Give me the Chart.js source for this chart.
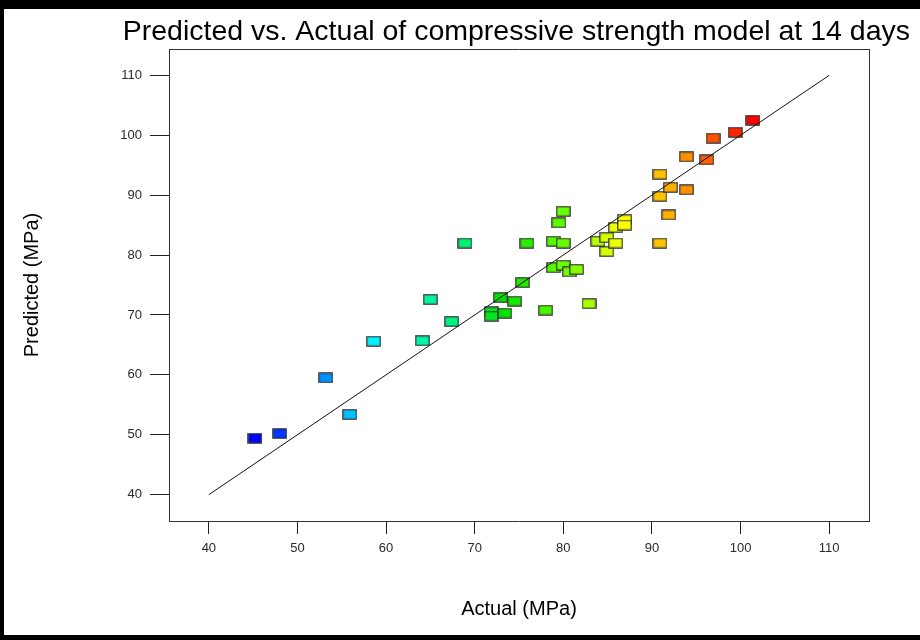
<!DOCTYPE html>
<html>
<head>
    <title>Predicted vs. Actual</title>
    <script src="https://cdn.jsdelivr.net/npm/chart.js"></script>
    <style>
        html, body { margin:0; padding:0; background:#fff; }
        #frame { width:920px; height:640px; box-sizing:border-box; border-top:9px solid #000; border-left:4px solid #000; border-bottom:5px solid #000; }
        #wrap { width:916px; height:626px; position:relative; }
    </style>
</head>
<body>
<div id="frame"><div id="wrap"><canvas id="pva"></canvas></div></div>
<script>
// values
const actual = [45.2, 48.0, 53.2, 55.9, 58.6, 64.1, 65.0, 67.4, 68.9, 71.9, 71.9, 73.4, 72.9, 74.5, 75.4,
  75.9, 78.0, 78.9, 78.9, 79.5, 80.0, 80.0, 80.0, 80.7, 81.5, 82.9, 83.9, 84.9, 84.9, 85.9, 85.9,
  86.9, 86.9, 90.9, 90.9, 90.9, 91.9, 92.1, 93.9, 93.9, 96.2, 96.9, 99.4, 101.4];
const predicted = [49.4, 50.2, 59.5, 53.4, 65.6, 65.7, 72.6, 68.9, 82.0, 70.5, 69.8, 70.3, 72.9, 72.3, 75.4,
  82.0, 70.8, 82.3, 77.9, 85.4, 87.3, 82.0, 78.3, 77.2, 77.6, 71.9, 82.3, 80.6, 82.9, 82.0, 84.6,
  85.9, 85.0, 89.8, 93.5, 82.0, 86.7, 91.3, 90.9, 96.4, 95.9, 99.5, 100.5, 102.5];
const fitLine = [40, 110];
const xTicks = [40, 50, 60, 70, 80, 90, 100, 110];
const yTicks = [40, 50, 60, 70, 80, 90, 100, 110];

// blue -> cyan -> green -> yellow -> red by actual value
const stops = [
  [45, [0,0,255]], [53, [0,140,255]], [58.6, [0,240,255]], [64, [0,245,170]], [69, [0,240,110]],
  [73, [0,225,0]], [80, [100,255,0]], [87, [255,255,0]], [91, [255,192,0]], [94, [255,140,0]],
  [97, [255,80,0]], [101.5, [255,0,0]]
];
function colorFor(v){
  if(v <= stops[0][0]) return stops[0][1];
  for(let i=1;i<stops.length;i++){
    if(v <= stops[i][0]){
      const [a, ca] = stops[i-1], [b, cb] = stops[i];
      const t = (v-a)/(b-a);
      return ca.map((c,k)=>Math.round(c + (cb[k]-c)*t));
    }
  }
  return stops[stops.length-1][1];
}
const boxCache = {};
function box(v){
  const c = colorFor(v);
  const key = c.join(',');
  if(boxCache[key]) return boxCache[key];
  const cv = document.createElement('canvas');
  cv.width = 15; cv.height = 11;
  const g = cv.getContext('2d');
  g.fillStyle = 'rgb(' + key + ')';
  g.fillRect(1, 1, 13, 9);
  g.strokeStyle = '#333';
  g.lineWidth = 1.2;
  g.strokeRect(0.8, 0.8, 13.4, 9.4);
  boxCache[key] = cv;
  return cv;
}

const points = actual.map((a,i)=>({x:a, y:predicted[i]}));
const linePts = fitLine.map(v=>({x:v, y:v}));
const family = '"Liberation Sans", Arial, sans-serif';
const tickFont = {family:family, size:13};

new Chart(document.getElementById('pva'), {
  type:'scatter',
  data:{datasets:[
    {type:'line', data:linePts, borderColor:'#111', borderWidth:1, pointRadius:0, fill:false, order:0},
    {data:points, pointStyle:ctx=>box(ctx.raw ? ctx.raw.x : 70), pointRadius:6, order:1}
  ]},
  options:{
    responsive:true, maintainAspectRatio:false, animation:false,
    layout:{padding:{left:10, right:10, top:0, bottom:0}},
    plugins:{
      legend:{display:false}, tooltip:{enabled:false},
      title:{display:true, align:'end', text:'Predicted vs. Actual of compressive strength model at 14 days',
        color:'#000', font:{family:family, size:28.5, weight:'normal', lineHeight:1}, padding:{top:9, bottom:2.5}}
    },
    scales:{
      x:{type:'linear', position:'bottom', min:35.5, max:114.5,
        afterBuildTicks:s=>{ s.ticks = xTicks.map(v=>({value:v})); },
        afterFit:s=>{ s.height = 114; },
        grid:{drawOnChartArea:false, drawTicks:true, tickLength:13, color:'#222', lineWidth:1},
        border:{display:true, color:'#333', width:1},
        ticks:{padding:7, color:'#2a2a2a', font:tickFont, maxRotation:0},
        title:{display:true, text:'Actual (MPa)', color:'#000', font:{family:family, size:20}, padding:{top:0, bottom:14}}
      },
      y:{type:'linear', position:'left', min:35.6, max:114.4,
        afterBuildTicks:s=>{ s.ticks = yTicks.map(v=>({value:v})); },
        afterFit:s=>{ s.width = 155; },
        grid:{drawOnChartArea:false, drawTicks:true, tickLength:19, color:'#222', lineWidth:1},
        border:{display:true, color:'#333', width:1},
        ticks:{padding:8, color:'#2a2a2a', font:tickFont},
        title:{display:true, text:'Predicted (MPa)', color:'#000', font:{family:family, size:20}, padding:{top:6, bottom:0}}
      },
      x2:{type:'linear', position:'top', min:35.5, max:114.5, display:true,
        afterFit:s=>{ s.height = 0; },
        grid:{display:false}, ticks:{display:false},
        border:{display:true, color:'#333', width:1}
      },
      y2:{type:'linear', position:'right', min:35.6, max:114.4, display:true,
        afterFit:s=>{ s.width = 41; },
        grid:{display:false}, ticks:{display:false},
        border:{display:true, color:'#333', width:1}
      }
    }
  }
});
</script>
</body>
</html>
